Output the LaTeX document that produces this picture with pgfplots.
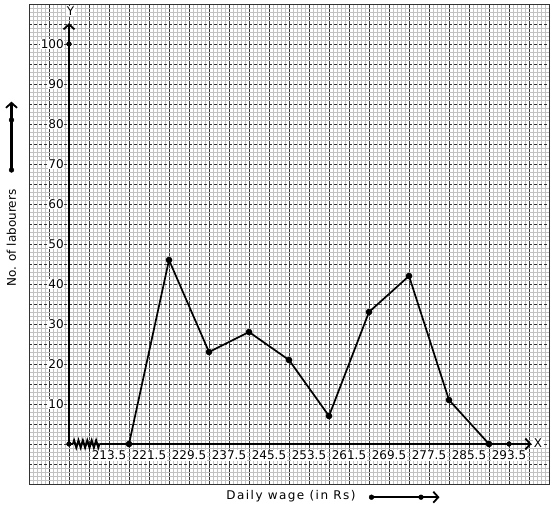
\documentclass[border=0pt]{standalone}
\usepackage{pgfplots}
\pgfplotsset{compat=1.18}
\usepackage{fontspec}
\setmainfont{DejaVu Sans}
\usetikzlibrary{arrows.meta,decorations.pathmorphing}

\begin{document}
\begin{tikzpicture}
\begin{axis}[
  scale only axis, width=520pt, height=480pt,
  xmin=197.5, xmax=301.5, ymin=-10, ymax=110,
  xtick={197.5,201.5,...,301.5}, ytick={-10,-5,...,110},
  minor x tick num=4, minor y tick num=4,
  xmajorgrids, xminorgrids, yminorgrids, ymajorgrids=false,
  xticklabels={}, yticklabels={},
  major tick length=0pt, minor tick length=0pt,
  major grid style={black!80, line width=0.9pt},
  minor grid style={black!24, line width=0.9pt},
  axis line style={black!80, line width=0.9pt},
  clip=false,
  font=\fontsize{12}{14}\selectfont,
]
% dashed horizontal major grid lines
\pgfplotsinvokeforeach{-5,0,...,105}{
  \draw[black!80, line width=0.9pt, dash pattern=on 3pt off 2pt] (axis cs:197.5,#1) -- (axis cs:301.5,#1);
}
% y tick labels
\pgfplotsinvokeforeach{10,20,...,100}{
  \node[anchor=east, fill=white, inner sep=0.6pt] at (axis cs:204.6,#1) {#1};
}
% x tick labels
\pgfplotsinvokeforeach{213.5,221.5,229.5,237.5,245.5,253.5,261.5,269.5,277.5,285.5,293.5}{
  \node[anchor=north, fill=white, inner sep=1pt] at (axis cs:#1,-1.4) {#1};
}
% axes
\draw[line width=2.4pt, -{Straight Barb[length=5pt,width=11pt,line width=1.8pt]}] (axis cs:205.5,0) -- (axis cs:205.5,105.2);
\draw[line width=2.4pt] (axis cs:205.5,0) -- (axis cs:206.3,0);
\draw[line width=2pt, decorate, decoration={zigzag, segment length=4.4pt, amplitude=3.5pt}] (axis cs:206.3,0) -- (axis cs:211.6,0);
\draw[line width=2.4pt, -{Straight Barb[length=5pt,width=11pt,line width=1.8pt]}] (axis cs:211.6,0) -- (axis cs:298.0,0);
\node[anchor=west, fill=white, inner sep=0.6pt] at (axis cs:298.3,0.3) {X};
\node[fill=white, inner sep=0.6pt] at (axis cs:205.8,108.2) {Y};

% frequency polygon
\addplot[black, line width=1.7pt, mark=*, mark size=2.4pt] coordinates {
  (217.5,0) (225.5,46) (233.5,23) (241.5,28) (249.5,21)
  (257.5,7) (265.5,33) (273.5,42) (281.5,11) (289.5,0)
};
\addplot[only marks, black, mark=*, mark size=2.4pt] coordinates {
  (205.5,0) (205.5,100) (293.5,0)
};

% outside arrows
\draw[line width=2.2pt, -{Straight Barb[length=5pt,width=11pt,line width=1.8pt]}] (axis cs:194.0,68.5) -- (axis cs:194.0,85.6);
\addplot[only marks, black, mark=*, mark size=2.4pt] coordinates {(194.0,68.5) (194.0,81)};
\draw[line width=2.2pt, -{Straight Barb[length=5pt,width=11pt,line width=1.8pt]}] (axis cs:266.0,-13.3) -- (axis cs:279.6,-13.3);
\addplot[only marks, black, mark=*, mark size=2.4pt] coordinates {(266.0,-13.3) (275.9,-13.3)};

% axis titles
\node[rotate=90] at (axis cs:194.0,51.5) {No. of labourers};
\node at (axis cs:249.9,-13.0) {\addfontfeatures{LetterSpace=12}Daily wage (in Rs)};

% bounding box
\coordinate (bl) at (axis cs:191.7,-16.5);
\coordinate (tr) at (axis cs:302.5,111);
\end{axis}
\path (bl) rectangle (tr);
\end{tikzpicture}
\end{document}
